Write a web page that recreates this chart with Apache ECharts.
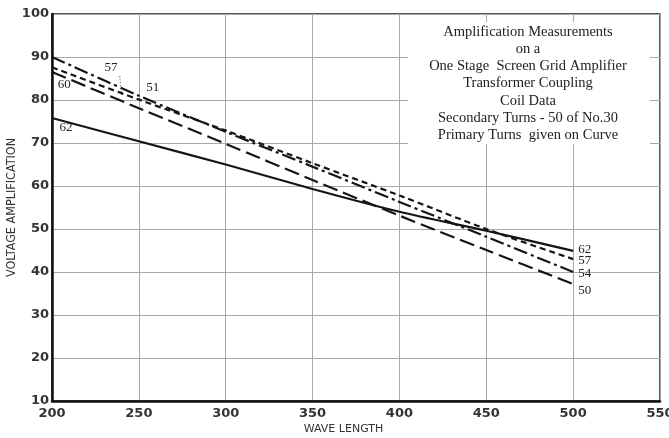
<!DOCTYPE html>
<html>
<head>
<meta charset="utf-8">
<script src="https://cdn.jsdelivr.net/npm/echarts@6/dist/echarts.min.js"></script>
<style>
  html, body { margin: 0; padding: 0; background: #fff; }
  #main { width: 669px; height: 438px; }
</style>
</head>
<body>
<div id="main"></div>
<script>
// wave lengths where the curves were read
var waveLengths = [200, 250, 300, 350, 400, 450, 500];
// voltage amplification for each primary-turns curve
var turns62 = [75.8, 70.4, 65.0, 59.3, 54.0, 49.6, 44.9];
var turns54 = [90.0, 81.0, 72.6, 64.5, 56.3, 48.2, 40.0];
var turns57 = [87.6, 80.1, 72.9, 65.3, 57.8, 50.0, 43.0];
var turns50 = [86.5, 78.1, 69.8, 61.4, 53.1, 45.1, 37.2];

var xTicks = [200, 250, 300, 350, 400, 450, 500, 550];
var yTicks = [10, 20, 30, 40, 50, 60, 70, 80, 90, 100];

// curve labels, as printed on the chart
var leftLabels = ['57', '51', '60', '62'];
var leftLabelAt = [[234, 87.5], [258, 83], [207, 83.5], [208, 73.5]];
var rightLabels = ['62', '57', '54', '50'];
var rightLabelAt = [[503, 45.2], [503, 42.6], [503, 39.6], [503, 35.6]];

var boxLines = [
  'Amplification Measurements',
  'on a',
  'One Stage  Screen Grid Amplifier',
  'Transformer Coupling',
  'Coil Data',
  'Secondary Turns - 50 of No.30',
  'Primary Turns  given on Curve'
];

function pairs(ys) {
  return waveLengths.map(function (x, i) { return [x, ys[i]]; });
}

var myChart = echarts.init(document.getElementById('main'));

function lineSeries(name, ys, dash) {
  return {
    name: name,
    type: 'line',
    data: pairs(ys),
    symbol: 'none',
    smooth: 0.3,
    lineStyle: { color: '#151515', width: 2.2, type: dash },
    z: 5
  };
}

var axisText = { color: '#333', fontSize: 13, fontFamily: 'DejaVu Sans', fontWeight: 'bold' };

var option = {
  animation: false,
  backgroundColor: '#fff',
  grid: {
    left: 52, right: 9, top: 14, bottom: 37,
    outerBoundsMode: 'none',
    containLabel: false,
    show: true, borderColor: '#222', borderWidth: 1.5
  },
  xAxis: {
    type: 'value',
    min: 200, max: 550, interval: 50,
    name: 'WAVE LENGTH',
    nameLocation: 'middle',
    nameGap: 23,
    nameMoveOverlap: false,
    nameTextStyle: { color: '#333', fontSize: 11, fontFamily: 'DejaVu Sans', padding: [0, 25, 0, 0] },
    axisLine: { lineStyle: { color: '#111', width: 2.5 } },
    axisTick: { show: false },
    axisLabel: Object.assign({ margin: 6, formatter: function (v) { return xTicks.indexOf(v) >= 0 ? String(v) : ''; } }, axisText),
    splitLine: { lineStyle: { color: '#a8a8a8', width: 1 } }
  },
  yAxis: {
    type: 'value',
    min: 10, max: 100, interval: 10,
    name: 'VOLTAGE AMPLIFICATION',
    nameLocation: 'middle',
    nameGap: 34,
    nameMoveOverlap: false,
    nameTextStyle: { color: '#333', fontSize: 12.5, fontFamily: 'DejaVu Sans Condensed', padding: [0, 0, 0, 0] },
    axisLine: { lineStyle: { color: '#111', width: 2.5 } },
    axisTick: { show: false },
    axisLabel: Object.assign({ margin: 3, formatter: function (v) { return yTicks.indexOf(v) >= 0 ? String(v) : ''; } }, axisText),
    splitLine: { lineStyle: { color: '#a8a8a8', width: 1 } }
  },
  series: [
    lineSeries('62', turns62, 'solid'),
    lineSeries('54', turns54, [14, 4, 3, 4]),
    lineSeries('57', turns57, [6, 4]),
    lineSeries('50', turns50, [15, 6])
  ]
};

myChart.setOption(option);

// annotations: title box and curve labels
var serif = 'Liberation Serif';
var gfx = [];
gfx.push({
  type: 'rect', shape: { x: 408, y: 22, width: 242, height: 122 },
  style: { fill: '#fff' }, z: 10
});
boxLines.forEach(function (t, i) {
  gfx.push({
    type: 'text', x: 528, y: 32 + i * 17.2, z: 11,
    style: { text: t, fill: '#222', font: '14.5px "' + serif + '"', align: 'center', verticalAlign: 'middle' }
  });
});
function addLabels(labels, at, align) {
  labels.forEach(function (t, i) {
    var p = myChart.convertToPixel({ gridIndex: 0 }, at[i]);
    gfx.push({
      type: 'text', x: p[0], y: p[1], z: 11,
      style: { text: t, fill: '#222', font: '13px "' + serif + '"', align: align, verticalAlign: 'middle' }
    });
  });
}
addLabels(leftLabels, leftLabelAt, 'center');
addLabels(rightLabels, rightLabelAt, 'left');

// little dotted pointer under the left "57"
var a = myChart.convertToPixel({ gridIndex: 0 }, [239, 85.5]);
var b = myChart.convertToPixel({ gridIndex: 0 }, [240, 81.2]);
gfx.push({
  type: 'line', shape: { x1: a[0], y1: a[1], x2: b[0], y2: b[1] }, z: 11,
  style: { stroke: '#333', lineWidth: 1, lineDash: [1, 2] }
});

myChart.setOption({ graphic: gfx });
</script>
</body>
</html>
